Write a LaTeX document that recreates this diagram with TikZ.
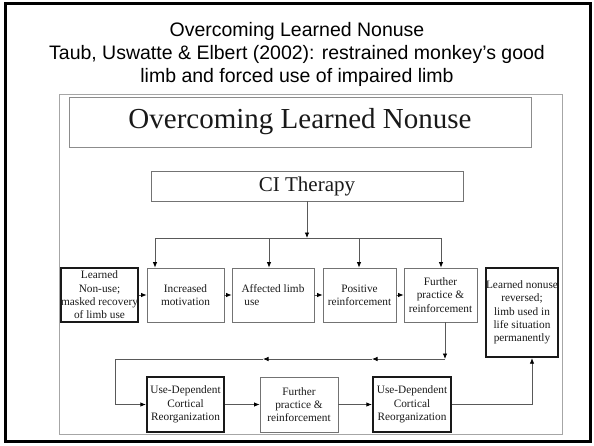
\documentclass[tikz,border=0pt]{standalone}
\usepackage{fontspec}
\setmainfont{Liberation Serif}
\newfontfamily\slidefont{Liberation Sans}
\usetikzlibrary{arrows.meta}

\begin{document}
\begin{tikzpicture}[x=1pt,y=-1pt,every node/.style={inner sep=0pt,text=black!90},
stagebox/.style={draw=black!55,line width=0.8pt,align=center,minimum height=54,font=\fontsize{11.3}{13.3}\selectfont},
keybox/.style={stagebox,draw=black!90,line width=2.3pt},
flow/.style={-{Latex[length=5.5pt,width=4.5pt,black]},draw=black!65,line width=0.8pt},
titleline/.style={anchor=base,text=black,font=\slidefont\fontsize{19.5}{23}\selectfont}]
\useasboundingbox (0,0) rectangle (594,445);

\draw[line width=3pt] (5,3) rectangle (590,441);
\draw[black!35,line width=0.7pt] (59,94) rectangle (562,434);

\node[titleline] (title) at (297,36) {Overcoming Learned Nonuse};
\node[titleline] (subtitle) at (297,59) {Taub, Uswatte \& Elbert (2002): restrained monkey’s good};
\node[titleline] (subtitleb) at (297,82) {limb and forced use of impaired limb};

\node[draw=black!45,line width=0.7pt,minimum width=462,minimum height=50,font=\fontsize{29}{34}\selectfont] (heading) at (300,122) {Overcoming Learned Nonuse};
\node[draw=black!55,line width=0.8pt,minimum width=312,minimum height=30,font=\fontsize{21}{25}\selectfont] (therapy) at (307,186) {CI Therapy};

\node[keybox,minimum width=77] (origin) at (99.5,295) {Learned\\Non-use;\\masked recovery\\of limb use};
\node[stagebox,minimum width=77] (motiv) at (185.5,295) {Increased\\motivation};
\node[stagebox,minimum width=82,align=left] (limbuse) at (273,295) {Affected limb\\\ use};
\node[stagebox,minimum width=73] (reward) at (359.5,295) {Positive\\reinforcement};
\node[stagebox,minimum width=73] (practice) at (440.5,295) {Further\\practice \&\\reinforcement};
\node[keybox,minimum width=72,minimum height=89] (reversed) at (522,312.5) {Learned nonuse\\reversed;\\limb used in\\life situation\\permanently};

\node[keybox,minimum width=77,minimum height=55] (cortexa) at (185.5,404.5) {Use-Dependent\\Cortical\\Reorganization};
\node[stagebox,minimum width=78,minimum height=55] (drill) at (299,404.5) {Further\\practice \&\\reinforcement};
\node[keybox,minimum width=78,minimum height=55] (cortexb) at (412,404.5) {Use-Dependent\\Cortical\\Reorganization};

\coordinate (split) at (307,238);
\coordinate (turn) at (445,359);
\coordinate (loopA) at (372,359);
\coordinate (loopB) at (263,359);
\coordinate (loopC) at (115,359);

\draw[flow] (therapy) -- (split);
\draw[black!65,line width=0.8pt] (155,238) -- (441,238);
\foreach \x/\b in {155/motiv,269/limbuse,359/reward,441/practice}{
\draw[flow] (\x,238) -- (\x,238 |- \b.north);}

\foreach \a/\b in {origin/motiv,motiv/limbuse,limbuse/reward,reward/practice,cortexa/drill,drill/cortexb}{
\draw[flow] (\a) -- (\b);}

\draw[flow] (practice.south -| turn) -- (turn);
\draw[flow] (turn) -- (loopA);
\draw[flow] (loopA) -- (loopB);
\draw[flow] (loopB) -- (loopC) |- (cortexa);
\draw[flow] (cortexb) -| ([xshift=10pt]reversed.south);

\end{tikzpicture}
\end{document}
